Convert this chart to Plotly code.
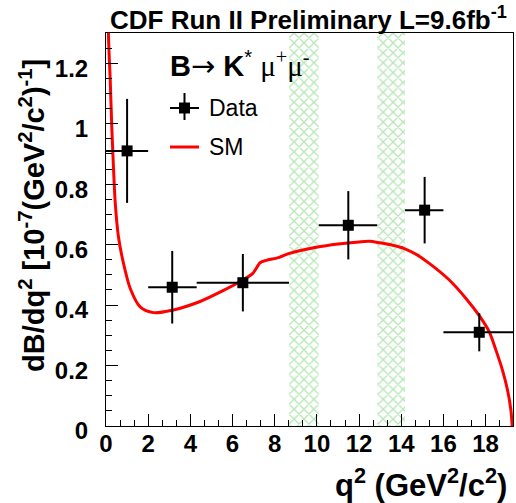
import plotly.graph_objects as go

# ---- data ----
data_q2 = [1.0, 3.14, 6.49, 11.49, 15.11, 17.7]
data_q2_lo = [0.0, 2.0, 4.3, 10.09, 14.18, 16.0]
data_q2_hi = [2.0, 4.3, 8.68, 12.86, 16.0, 19.3]
data_val = [0.91, 0.459, 0.474, 0.664, 0.714, 0.31]
data_err = [0.172, 0.12, 0.095, 0.113, 0.11, 0.063]

sm_q2 = [0.06, 0.12, 0.2, 0.28, 0.36, 0.44, 0.59, 0.83, 1.15, 1.62, 2.25, 3.14, 4.43, 5.5,
         6.49, 6.96, 7.32, 7.6, 8.22, 8.7, 9.96, 11.0, 12.0, 12.5, 12.98, 13.6, 14.15, 14.75,
         15.33, 16.28, 17.07, 17.7, 18.17, 18.49, 18.8, 19.04, 19.2, 19.26]
sm_val = [1.8, 1.287, 1.144, 0.979, 0.846, 0.736, 0.626, 0.538, 0.455, 0.394, 0.375, 0.383, 0.411, 0.446,
          0.483, 0.505, 0.541, 0.548, 0.558, 0.571, 0.591, 0.602, 0.609, 0.611, 0.606, 0.598, 0.587, 0.566,
          0.538, 0.483, 0.422, 0.365, 0.312, 0.251, 0.185, 0.119, 0.053, 0.0]

veto_lo = [8.68, 12.86]
veto_hi = [10.09, 14.18]
y_max = 1.3

FONT = "Liberation Sans"

fig = go.Figure()

# veto bands (hatched)
for lo, hi in zip(veto_lo, veto_hi):
    fig.add_trace(go.Scatter(
        x=[lo, lo, hi, hi, lo], y=[0, y_max, y_max, 0, 0],
        mode="lines", line=dict(width=0, color="rgba(0,0,0,0)"),
        fill="toself", fillcolor="rgba(0,0,0,0)",
        fillpattern=dict(shape="x", fgcolor="#6fcf6f", bgcolor="white", size=7, solidity=0.35),
        hoverinfo="skip", showlegend=False))

# SM curve
fig.add_trace(go.Scatter(
    x=sm_q2, y=sm_val, mode="lines",
    line=dict(color="#ff0000", width=3, shape="spline", smoothing=0.8),
    showlegend=False))

# data
fig.add_trace(go.Scatter(
    x=data_q2, y=data_val, mode="markers",
    marker=dict(symbol="square", size=11, color="black"),
    error_x=dict(type="data", symmetric=False,
                 array=[h - c for h, c in zip(data_q2_hi, data_q2)],
                 arrayminus=[c - l for l, c in zip(data_q2_lo, data_q2)],
                 width=0, thickness=2, color="black"),
    error_y=dict(type="data", array=data_err, width=0, thickness=2, color="black"),
    showlegend=False))

tickfont = dict(family=FONT, size=24, color="black", weight="bold")

fig.update_xaxes(range=[0, 19.3], tick0=0, dtick=2, ticks="inside", ticklen=12, tickwidth=1,
                 tickcolor="black", minor=dict(dtick=2/3, ticks="inside", ticklen=6, tickcolor="black"),
                 showline=True, mirror=True, linecolor="black", linewidth=1,
                 showgrid=False, zeroline=False, tickfont=tickfont, ticklabelstandoff=-4)
fig.update_yaxes(range=[0, y_max], tick0=0, dtick=0.2, ticks="inside", ticklen=12, tickwidth=1,
                 tickcolor="black", minor=dict(dtick=0.05, ticks="inside", ticklen=6, tickcolor="black"),
                 showline=True, mirror=True, linecolor="black", linewidth=1,
                 showgrid=False, zeroline=False, tickfont=tickfont, ticklabelstandoff=12,
                 ticklabelshift=5)

W, H = 516, 503
L, R, T, B = 106, 3, 33, 77
pw, ph = W - L - R, H - T - B

def px(x):
    return (x - L) / pw

def py(y):
    return (H - B - y) / ph

ann = []
ann.append(dict(text="<b>CDF Run II Preliminary L=9.6fb<sup>-1</sup></b>", x=px(308), y=py(18),
                xref="paper", yref="paper", xanchor="center", yanchor="middle", showarrow=False,
                font=dict(family=FONT, size=26, color="black")))
ann.append(dict(text="<b>dB/dq<sup>2</sup> [10<sup>-7</sup>(GeV<sup>2</sup>/c<sup>2</sup>)<sup>-1</sup>]</b>",
                x=px(32), y=py(216), xref="paper", yref="paper", xanchor="center", yanchor="middle",
                textangle=-90, showarrow=False, font=dict(family=FONT, size=29, color="black")))
ann.append(dict(text="<b>q<sup>2</sup> (GeV<sup>2</sup>/c<sup>2</sup>)</b>", x=px(509), y=py(483),
                xref="paper", yref="paper", xanchor="right", yanchor="middle", showarrow=False,
                font=dict(family=FONT, size=31, color="black")))
ann.append(dict(text="<b>B</b><span style='font-family:DejaVu Sans'>\u2192</span> <b>K</b><sup>*</sup> "
                     "<span style='font-family:Liberation Serif'>\u03bc<sup>+</sup>\u03bc<sup>-</sup></span>",
                x=px(168), y=py(65), xref="paper", yref="paper", xanchor="left", yanchor="middle",
                showarrow=False, font=dict(family=FONT, size=29, color="black")))
ann.append(dict(text="Data", x=px(207), y=py(108), xref="paper", yref="paper", xanchor="left",
                yanchor="middle", showarrow=False, font=dict(family=FONT, size=23, color="black")))
ann.append(dict(text="SM", x=px(207), y=py(147), xref="paper", yref="paper", xanchor="left",
                yanchor="middle", showarrow=False, font=dict(family=FONT, size=23, color="black")))

shapes = [
    dict(type="line", xref="paper", yref="paper", x0=px(170), x1=px(199), y0=py(108), y1=py(108),
         line=dict(color="black", width=2)),
    dict(type="line", xref="paper", yref="paper", x0=px(184.5), x1=px(184.5), y0=py(93), y1=py(120),
         line=dict(color="black", width=2)),
    dict(type="rect", xref="paper", yref="paper", x0=px(179), x1=px(190), y0=py(102.5), y1=py(113.5),
         fillcolor="black", line=dict(width=0)),
    dict(type="line", xref="paper", yref="paper", x0=px(170), x1=px(199), y0=py(147), y1=py(147),
         line=dict(color="#ff0000", width=3)),
]

fig.update_layout(width=W, height=H, margin=dict(l=L, r=R, t=T, b=B, pad=0),
                  plot_bgcolor="white", paper_bgcolor="white",
                  annotations=ann, shapes=shapes, showlegend=False)

fig.write_html("out.html")
